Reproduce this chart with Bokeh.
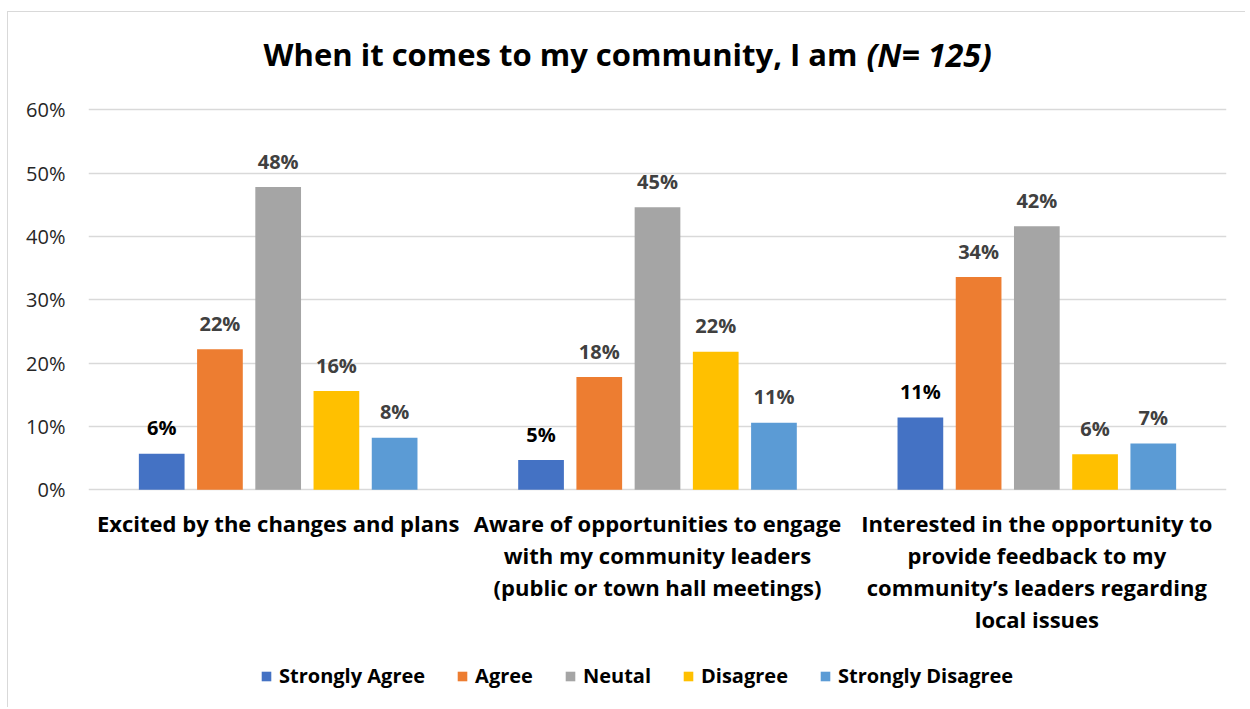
from bokeh.plotting import figure
from bokeh.models import (ColumnDataSource, FactorRange, Range1d, FixedTicker,
                          Legend, LegendItem, Label)
from bokeh.transform import dodge
from bokeh.core.properties import value
from bokeh.embed import file_html
from bokeh.resources import INLINE

# ---------------- data ----------------
category_lines = [
    "Excited by the changes and plans",
    "Aware of opportunities to engage\nwith my community leaders\n(public or town hall meetings)",
    "Interested in the opportunity to\nprovide feedback to my\ncommunity\u2019s leaders regarding\nlocal issues",
]
categories = [c.replace("\n", " ") for c in category_lines]
series_names = ["Strongly Agree", "Agree", "Neutal", "Disagree", "Strongly Disagree"]
strongly_agree = [5.7, 4.7, 11.4]
agree = [22.2, 17.8, 33.6]
neutral = [47.8, 44.6, 41.6]
disagree = [15.6, 21.8, 5.6]
strongly_disagree = [8.2, 10.6, 7.3]
y_ticks = [0, 10, 20, 30, 40, 50, 60]
y_tick_labels = ["0%", "10%", "20%", "30%", "40%", "50%", "60%"]
title_main = "When it comes to my community, I am"
title_n = "(N= 125)"

series_values = [strongly_agree, agree, neutral, disagree, strongly_disagree]
colors = ["#4472C4", "#ED7D31", "#A5A5A5", "#FFC000", "#5B9BD5"]
label_colors = ["#000000", "#404040", "#404040", "#404040", "#404040"]

FONT = "Open Sans"

# ---------------- layout ----------------
W, H = 1238, 696
PX_PER_PCT = 380 / 60.0      # vertical pixels per percentage point
ZERO_FROM_TOP = 477.3        # pixel row of the 0% line inside the figure

p = figure(width=W, height=H,
           x_range=FactorRange(*categories, range_padding=0),
           y_range=Range1d(-(H - ZERO_FROM_TOP) / PX_PER_PCT, ZERO_FROM_TOP / PX_PER_PCT),
           output_backend="svg", toolbar_location=None,
           min_border_left=80, min_border_right=20, min_border_top=0,
           min_border_bottom=0,
           styles={"margin-left": "7px", "margin-top": "11px",
                   "border-left": "1px solid #D9D9D9",
                   "border-top": "1px solid #D9D9D9"})
p.title = None
p.outline_line_color = None
p.background_fill_color = "white"
p.border_fill_color = "white"

step = 0.1535
bar_w = 0.1205
renderers = []
for j, (name, vals) in enumerate(zip(series_names, series_values)):
    src = ColumnDataSource(dict(cat=categories, v=vals,
                                lbl=[f"{round(v):.0f}%" for v in vals]))
    off = (j - 2) * step
    r = p.vbar(x=dodge("cat", off, range=p.x_range), top="v", width=bar_w,
               source=src, fill_color=colors[j], line_color=None)
    renderers.append(r)
    p.text(x=dodge("cat", off, range=p.x_range), y="v", text="lbl", source=src,
           text_align="center", text_baseline="alphabetic", y_offset=-26,
           text_font=value(FONT), text_font_style="bold", text_font_size="20px",
           text_color=label_colors[j])

# category labels (multi-line) under the 0% line
cat_src = ColumnDataSource(dict(cat=categories, y=[0] * len(categories), txt=category_lines))
p.text(x="cat", y="y", text="txt", source=cat_src, text_align="center",
       text_baseline="top", y_offset=18, text_font=value(FONT),
       text_font_style="bold", text_font_size="22px", text_color="#000000",
       text_line_height=1.07)

# axes
p.yaxis.ticker = FixedTicker(ticks=y_ticks)
p.yaxis.major_label_overrides = {t: l for t, l in zip(y_ticks, y_tick_labels)}
p.yaxis.axis_line_color = None
p.yaxis.major_tick_line_color = None
p.yaxis.major_tick_out = 0
p.yaxis.major_tick_in = 0
p.yaxis.minor_tick_line_color = None
p.yaxis.major_label_standoff = 23
p.yaxis.major_label_text_font = FONT
p.yaxis.major_label_text_font_size = "20px"
p.yaxis.major_label_text_color = "#262626"

p.xaxis.visible = False
p.xgrid.grid_line_color = None
p.ygrid.ticker = FixedTicker(ticks=y_ticks)
p.ygrid.grid_line_color = "#D9D9D9"
p.ygrid.grid_line_width = 1.3

# title (two pieces: bold + bold italic), screen units from frame bottom-left
TITLE_Y = H - 54.7 + 13
p.add_layout(Label(x=769, y=TITLE_Y, x_units="screen", y_units="screen",
                   text=title_main, text_align="right", text_baseline="alphabetic",
                   text_font=FONT, text_font_style="bold", text_font_size="31px",
                   text_color="#000000"))
p.add_layout(Label(x=778, y=TITLE_Y, x_units="screen", y_units="screen",
                   text=title_n, text_align="left", text_baseline="alphabetic",
                   text_font=FONT, text_font_style="bold italic", text_font_size="32px",
                   text_color="#000000"))

# legend
items = [LegendItem(label=n, renderers=[r]) for n, r in zip(series_names, renderers)]
legend = Legend(items=items, orientation="horizontal", location=(172, 19),
                glyph_width=12, glyph_height=12, label_standoff=7, spacing=31,
                padding=0, margin=0, border_line_color=None,
                background_fill_alpha=0, label_text_font=FONT,
                label_text_font_style="bold", label_text_font_size="20px",
                label_text_color="#000000")
p.add_layout(legend, "center")

open("out.html", "w").write(file_html(p, INLINE))
